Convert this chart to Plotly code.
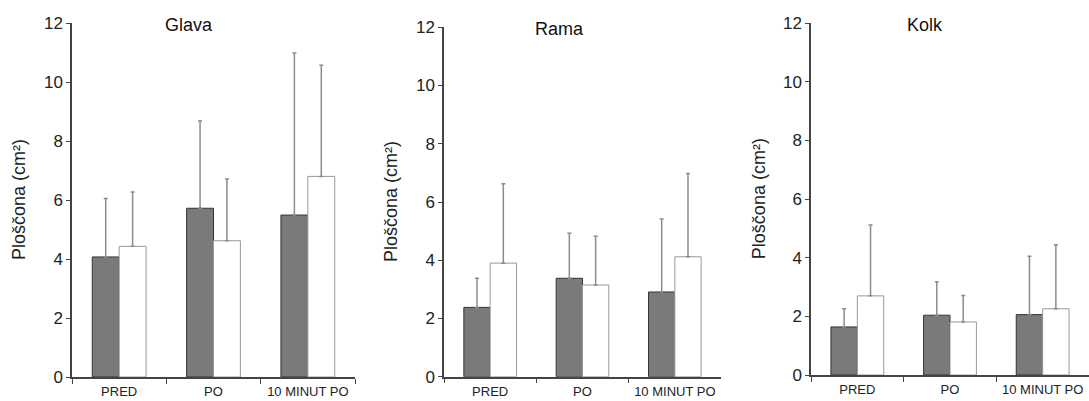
import plotly.graph_objects as go

categories = ["PRED", "PO", "10 MINUT PO"]
panels = ["Glava", "Rama", "Kolk"]

# mean values (dark series, white series) and upper error-bar tops per panel
dark_vals = {
    "Glava": [4.07, 5.72, 5.49],
    "Rama": [2.38, 3.38, 2.91],
    "Kolk": [1.64, 2.04, 2.06],
}
dark_err_top = {
    "Glava": [6.05, 8.68, 10.98],
    "Rama": [3.38, 4.93, 5.42],
    "Kolk": [2.26, 3.18, 4.05],
}
white_vals = {
    "Glava": [4.43, 4.62, 6.80],
    "Rama": [3.90, 3.15, 4.12],
    "Kolk": [2.70, 1.81, 2.26],
}
white_err_top = {
    "Glava": [6.27, 6.71, 10.57],
    "Rama": [6.63, 4.82, 6.98],
    "Kolk": [5.12, 2.71, 4.44],
}
y_ticks = [0, 2, 4, 6, 8, 10, 12]
y_title = "Ploščona (cm²)"

W, H = 1089, 401
# pixel geometry of each panel: (x_left, x_right, y_bottom, y_top)
geom = [
    (72, 355, 377, 23),
    (444, 721, 376.7, 27.3),
    (811, 1089, 375, 23.3),
]
title_pos = [(189, 25), (559, 29), (925, 25)]
ytitle_x = [19, 391, 759]

FONT = "Liberation Sans, Arial, sans-serif"
fig = go.Figure()

for i, p in enumerate(panels):
    xa = "x" if i == 0 else f"x{i+1}"
    ya = "y" if i == 0 else f"y{i+1}"
    d_err = [t - v for t, v in zip(dark_err_top[p], dark_vals[p])]
    w_err = [t - v for t, v in zip(white_err_top[p], white_vals[p])]
    fig.add_trace(go.Bar(
        x=categories, y=dark_vals[p], xaxis=xa, yaxis=ya,
        marker=dict(color="#7a7a7a", line=dict(color="#333333", width=1)),
        error_y=dict(type="data", symmetric=False, array=d_err,
                     arrayminus=[0]*3, color="#8c8c8c", thickness=1.5, width=2),
        showlegend=False, offsetgroup="a",
    ))
    fig.add_trace(go.Bar(
        x=categories, y=white_vals[p], xaxis=xa, yaxis=ya,
        marker=dict(color="#ffffff", line=dict(color="#999999", width=1)),
        error_y=dict(type="data", symmetric=False, array=w_err,
                     arrayminus=[0]*3, color="#8c8c8c", thickness=1.5, width=2),
        showlegend=False, offsetgroup="b",
    ))
    xl, xr, yb, yt = geom[i]
    xkey = "xaxis" if i == 0 else f"xaxis{i+1}"
    ykey = "yaxis" if i == 0 else f"yaxis{i+1}"
    fig.layout[xkey] = dict(
        domain=[xl / W, min(xr / W, 1.0)], anchor=ya, type="category",
        range=[-0.5, 2.5], showline=True, linecolor="#444444", linewidth=1.5,
        ticks="outside", tickson="boundaries", ticklen=5, tickcolor="#444444",
        showgrid=False, zeroline=False, automargin=False, ticklabelstandoff=2,
        tickangle=0,
        tickfont=dict(family=FONT, size=13, color="#222222"),
    )
    fig.layout[ykey] = dict(
        domain=[(H - yb) / H, (H - yt) / H], anchor=xa,
        range=[0, 12], tickvals=y_ticks, showline=True, linecolor="#444444",
        linewidth=1.5, ticks="outside", ticklen=4, tickcolor="#444444",
        showgrid=False, zeroline=False, automargin=False,
        tickfont=dict(family=FONT, size=17, color="#222222"),
    )
    fig.add_annotation(text=p, x=title_pos[i][0] / W, y=(H - title_pos[i][1]) / H,
                       xref="paper", yref="paper", showarrow=False,
                       xanchor="center", yanchor="middle",
                       font=dict(family=FONT, size=18, color="#111111"))
    fig.add_annotation(text=y_title, x=ytitle_x[i] / W, y=(H - (yb + yt) / 2) / H,
                       xref="paper", yref="paper", showarrow=False, textangle=-90,
                       xanchor="center", yanchor="middle",
                       font=dict(family=FONT, size=18, color="#222222"))

fig.update_layout(
    width=W, height=H, margin=dict(l=0, r=0, t=0, b=0, autoexpand=False),
    barmode="group", bargap=0.43, bargroupgap=0,
    plot_bgcolor="white", paper_bgcolor="white",
)
fig.write_html("out.html")
